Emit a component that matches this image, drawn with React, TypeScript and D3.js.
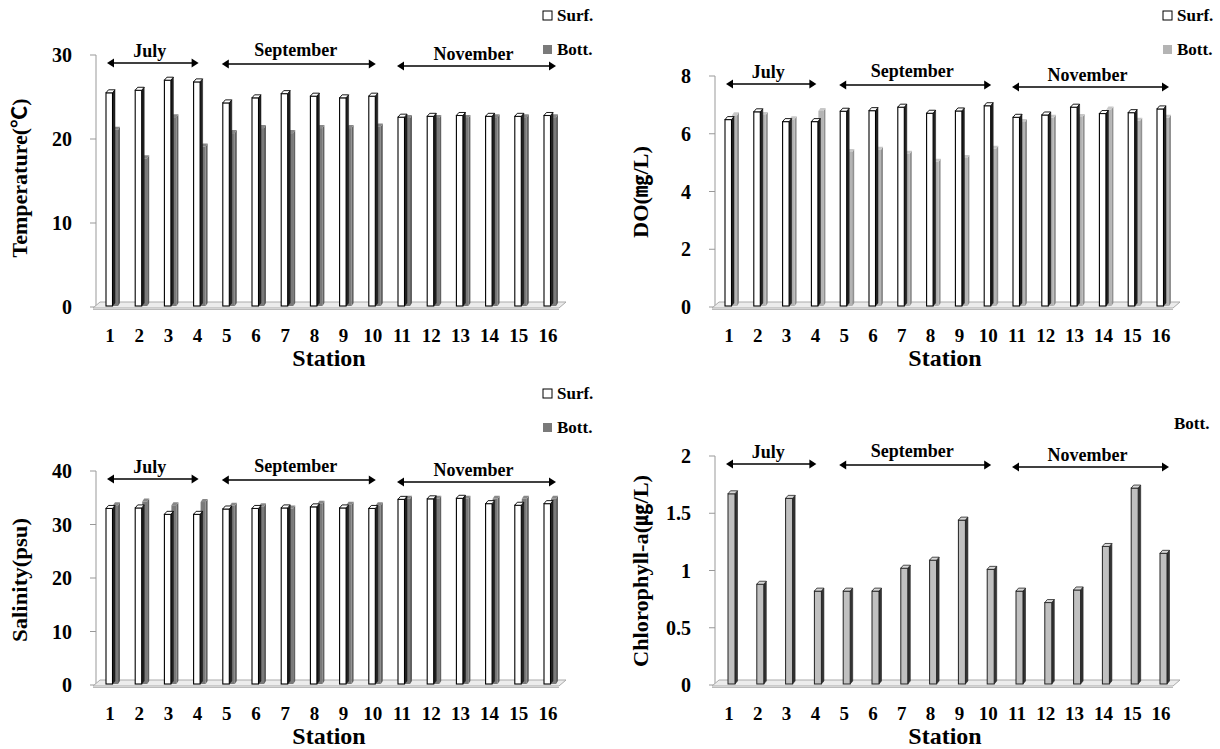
import React from 'react';
import * as d3 from 'd3';

const stations = ['1', '2', '3', '4', '5', '6', '7', '8', '9', '10', '11', '12', '13', '14', '15', '16'];
const months = ['July', 'September', 'November'];
const monthFirst = ['1', '5', '11'];
const monthLast = ['4', '10', '16'];

const tempSurf = [25.5, 25.8, 27.0, 26.8, 24.3, 24.9, 25.4, 25.1, 24.9, 25.1, 22.6, 22.7, 22.8, 22.7, 22.7, 22.8];
const tempBott = [21.1, 17.7, 22.6, 19.1, 20.7, 21.3, 20.7, 21.3, 21.3, 21.5, 22.5, 22.5, 22.5, 22.6, 22.6, 22.6];
const doSurf = [6.49, 6.76, 6.42, 6.42, 6.78, 6.8, 6.92, 6.71, 6.79, 6.97, 6.57, 6.65, 6.92, 6.7, 6.73, 6.86];
const doBott = [6.64, 6.65, 6.5, 6.79, 5.37, 5.45, 5.31, 5.03, 5.16, 5.48, 6.41, 6.55, 6.58, 6.84, 6.45, 6.55];
const salSurf = [33.0, 33.1, 31.9, 31.9, 32.9, 33.0, 33.1, 33.3, 33.1, 33.0, 34.7, 34.8, 34.9, 33.9, 33.6, 33.9];
const salBott = [33.6, 34.3, 33.6, 34.2, 33.5, 33.4, 33.0, 33.9, 33.7, 33.6, 34.8, 34.8, 34.8, 34.8, 34.8, 34.8];
const chlBott = [1.67, 0.88, 1.63, 0.82, 0.82, 0.82, 1.02, 1.09, 1.44, 1.01, 0.82, 0.72, 0.83, 1.21, 1.72, 1.15];

const tempTicks = [0, 10, 20, 30];
const doTicks = [0, 2, 4, 6, 8];
const salTicks = [0, 10, 20, 30, 40];
const chlTicks = [0, 0.5, 1, 1.5, 2];

const SERIF = '"Liberation Serif", "Times New Roman", "DejaVu Serif", serif';
const TITLEFONT = '"Liberation Serif", "Noto Sans CJK KR", serif';

type PanelProps = {
  ax: number; yTop: number; y0: number; x1: number; x16: number; floorR: number;
  ticks: number[]; surf: number[] | null; bott: number[];
  title: string; titleX: number; titleY: number; titleLen: number;
  legendX: number; legendY: number; bottColor: string; chl?: boolean;
};

function Arrow({ xa, xb, y }: { xa: number; xb: number; y: number }) {
  const h = 7, w = 4.5;
  return (
    <g>
      <line x1={xa + 4} x2={xb - 4} y1={y} y2={y} stroke="#000" strokeWidth={1.6} />
      <path d={`M${xa},${y} L${xa + h},${y - w} L${xa + h},${y + w} Z`} fill="#000" />
      <path d={`M${xb},${y} L${xb - h},${y - w} L${xb - h},${y + w} Z`} fill="#000" />
    </g>
  );
}

function Panel(p: PanelProps) {
  const max = p.ticks[p.ticks.length - 1];
  const y = d3.scaleLinear().domain([0, max]).range([p.y0, p.yTop]);
  const x = d3.scalePoint<string>().domain(stations).range([p.x1, p.x16]);
  const b = p.y0 - 1;
  const arrowOff = [8, 9, 11];
  const textOff = [-4, -5, -1];
  const darker = d3.color(p.bottColor)!.darker(0.6).toString();
  const lighter = d3.color(p.bottColor)!.brighter(0.3).toString();
  return (
    <g>
      <line x1={p.ax} x2={p.ax} y1={p.yTop} y2={p.y0 + 1} stroke="#999" strokeWidth={1} />
      {p.ticks.map((t, i) => (
        <g key={i}>
          <line x1={p.ax - 6} x2={p.ax} y1={y(t)} y2={y(t)} stroke="#999" strokeWidth={1} />
          <text x={p.ax - 24} y={y(t) + 7} textAnchor="end" fontFamily={SERIF} fontWeight="bold" fontSize={20}>
            {String(t)}
          </text>
        </g>
      ))}
      <polygon
        points={`${p.ax - 3},${p.y0 + 1} ${p.ax + 4},${p.y0 - 5} ${p.floorR},${p.y0 - 5} ${p.floorR - 7},${p.y0 + 1}`}
        fill="#ececec" stroke="#aaa" strokeWidth={1}
      />
      <line x1={p.ax - 3} x2={p.floorR - 7} y1={p.y0 + 2.5} y2={p.y0 + 2.5} stroke="#bbb" strokeWidth={1} />
      {stations.map((s, i) => {
        const c = x(s)!;
        const vb = p.bott[i];
        const tb = y(vb);
        if (p.chl) {
          return (
            <g key={s}>
              <polygon points={`${c + 6},${tb} ${c + 8.5},${tb - 3} ${c + 8.5},${b - 3} ${c + 6},${b}`} fill="#333" stroke="#222" strokeWidth={0.6} />
              <rect x={c - 1} y={tb} width={7} height={b - tb} fill="#c0c0c0" stroke="#222" strokeWidth={1} />
              <polygon points={`${c - 1},${tb} ${c + 1.5},${tb - 3} ${c + 8.5},${tb - 3} ${c + 6},${tb}`} fill="#d8d8d8" stroke="#222" strokeWidth={0.8} />
            </g>
          );
        }
        const vs = p.surf![i];
        const ts = y(vs);
        return (
          <g key={s}>
            <polygon points={`${c + 8},${tb} ${c + 10},${tb - 3} ${c + 10},${b - 3} ${c + 8},${b}`} fill={darker} />
            <rect x={c + 3} y={tb} width={5} height={b - tb} fill={p.bottColor} />
            <polygon points={`${c + 3},${tb} ${c + 5},${tb - 3} ${c + 10},${tb - 3} ${c + 8},${tb}`} fill={lighter} />
            <polygon points={`${c + 2.5},${ts} ${c + 5},${ts - 3} ${c + 5},${b - 3} ${c + 2.5},${b}`} fill="#222" stroke="#111" strokeWidth={0.5} />
            <rect x={c - 4} y={ts} width={6.5} height={b - ts} fill="#fff" stroke="#000" strokeWidth={1.1} />
            <polygon points={`${c - 4},${ts} ${c - 1.5},${ts - 3} ${c + 5},${ts - 3} ${c + 2.5},${ts}`} fill="#fff" stroke="#000" strokeWidth={0.9} />
          </g>
        );
      })}
      {stations.map((s) => (
        <text key={s} x={x(s)!} y={p.y0 + 35} textAnchor="middle" fontFamily={SERIF} fontWeight="bold" fontSize={19}>
          {s}
        </text>
      ))}
      <text x={(p.x1 + p.x16) / 2} y={p.y0 + 59} textAnchor="middle" fontFamily={SERIF} fontWeight="bold" fontSize={24}>
        Station
      </text>
      <text
        transform={`translate(${p.titleX + 7},${p.titleY}) rotate(-90)`}
        textAnchor="middle" fontFamily={TITLEFONT} fontWeight="bold" fontSize={20}
        textLength={p.titleLen} lengthAdjust="spacingAndGlyphs"
      >
        {p.title}
      </text>
      {months.map((m, i) => {
        const xa = x(monthFirst[i])! - (i === 0 ? 3 : 5);
        const xb = x(monthLast[i])! + (i === 0 ? 1 : i === 1 ? 3 : 8);
        return (
          <g key={m}>
            <Arrow xa={xa} xb={xb} y={p.yTop + arrowOff[i]} />
            <text x={(xa + xb) / 2 - 3} y={p.yTop + textOff[i] + 6} textAnchor="middle" fontFamily={SERIF} fontWeight="bold" fontSize={18}>
              {m}
            </text>
          </g>
        );
      })}
      {p.chl ? (
        <text x={p.legendX + 11} y={p.legendY + 40} fontFamily={SERIF} fontWeight="bold" fontSize={17}>Bott.</text>
      ) : (
        <g>
          <rect x={p.legendX} y={p.legendY} width={9} height={9} fill="#fff" stroke="#000" strokeWidth={1} />
          <text x={p.legendX + 14} y={p.legendY + 10} fontFamily={SERIF} fontWeight="bold" fontSize={17}>Surf.</text>
          <rect x={p.legendX} y={p.legendY + 34} width={9} height={9} fill={p.bottColor} />
          <text x={p.legendX + 14} y={p.legendY + 44} fontFamily={SERIF} fontWeight="bold" fontSize={17}>Bott.</text>
        </g>
      )}
    </g>
  );
}

export default function App() {
  return (
    <svg width={1220} height={749} style={{ position: 'absolute', left: 0, top: 0, background: '#fff' }}>
      <rect x={0} y={0} width={1220} height={749} fill="#fff" />
      <Panel ax={96} yTop={55} y0={307} x1={110} x16={548} floorR={566} ticks={tempTicks}
        surf={tempSurf} bott={tempBott} title="Temperature(℃)" titleX={20} titleY={178} titleLen={159}
        legendX={543} legendY={11} bottColor="#7a7a7a" />
      <Panel ax={715} yTop={76} y0={307} x1={729} x16={1161} floorR={1180} ticks={doTicks}
        surf={doSurf} bott={doBott} title="DO(㎎/L)" titleX={641} titleY={192} titleLen={92}
        legendX={1163} legendY={11} bottColor="#b4b4b4" />
      <Panel ax={96} yTop={471} y0={685} x1={110} x16={548} floorR={566} ticks={salTicks}
        surf={salSurf} bott={salBott} title="Salinity(psu)" titleX={20} titleY={580} titleLen={124}
        legendX={543} legendY={389} bottColor="#7a7a7a" />
      <Panel ax={715} yTop={456} y0={685} x1={729} x16={1161} floorR={1180} ticks={chlTicks}
        surf={null} bott={chlBott} title="Chlorophyll-a(㎍/L)" titleX={641} titleY={571} titleLen={192}
        legendX={1163} legendY={389} bottColor="#c0c0c0" chl />
    </svg>
  );
}
